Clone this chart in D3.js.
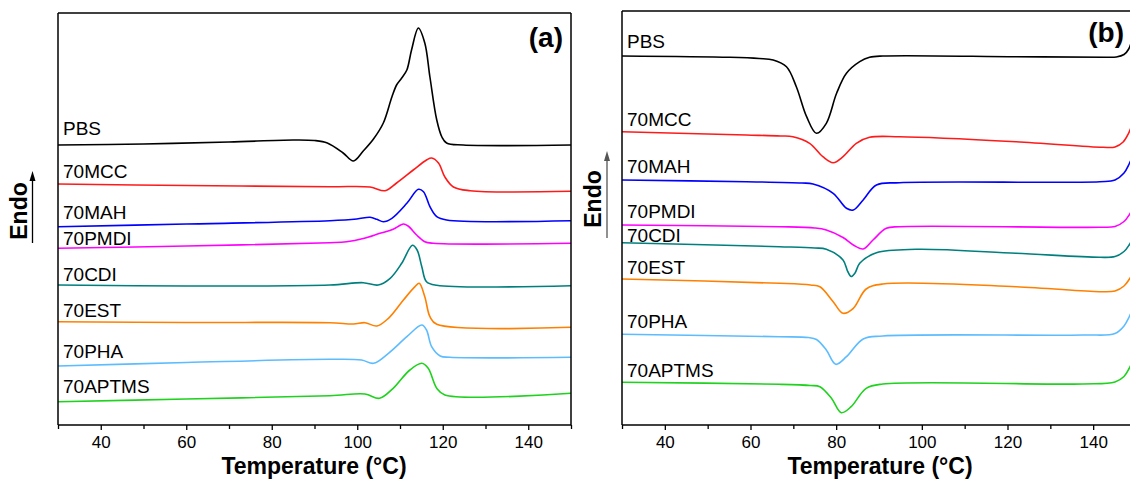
<!DOCTYPE html>
<html><head><meta charset="utf-8">
<script src="https://cdn.jsdelivr.net/npm/d3@7"></script>
<style>
html,body{margin:0;padding:0;background:#fff;}
svg{display:block;font-family:"Liberation Sans",Arial,sans-serif;}
</style></head>
<body><svg id="c" width="1130" height="481"></svg>
<script>
// ---------- DATA (temperature in °C, heat flow in arbitrary offset units, Endo up) ----------
const xTicks = [40, 60, 80, 100, 120, 140];
const xMinorTicks = [30, 50, 70, 90, 110, 130, 150];
const names = ["PBS", "70MCC", "70MAH", "70PMDI", "70CDI", "70EST", "70PHA", "70APTMS"];
const colors = ["#000000", "#ff1a1a", "#0000ff", "#ff00ff", "#007f7f", "#ff8000", "#5cbcff", "#1ed21e"];

// Panel (a) heating
const aPBS_T = [30, 50, 70, 85, 90, 93, 96.7, 99.1, 101.4, 103.8, 106.1, 108.1, 109.2, 110.4, 111.6, 112.7, 114.3, 115.8, 117.0, 118.6, 119.8, 120.9, 124.8, 150];
const aPBS_V = [280, 281, 283, 285, 284.5, 282, 272, 264, 274, 286, 302, 328, 340, 347, 355, 375, 397, 382, 348, 305, 288, 282, 280, 280];
const aMCC_T = [30, 60, 93.6, 103, 106.5, 109.2, 113.1, 116.2, 117.4, 119, 120.5, 122.5, 126.4, 150];
const aMCC_V = [241, 239.5, 238.3, 238, 234.3, 242, 255, 265, 267, 262, 248, 238, 234.3, 233.7];
const aMAH_T = [30, 60, 93.6, 99.9, 103, 104.6, 106.1, 108.1, 111.6, 114.3, 115.5, 117, 118.6, 120.9, 150];
const aMAH_V = [198.3, 201, 204.3, 206, 207.7, 205.7, 203.3, 206.7, 221.7, 235.7, 233.3, 218.3, 208.3, 205, 204.3];
const aPMDI_T = [30, 60, 93.6, 97.5, 101.4, 105.3, 108.4, 110.8, 111.9, 113.9, 115.8, 117.8, 150];
const aPMDI_V = [176.7, 179, 182.3, 183.3, 186.5, 191.7, 195.7, 201, 199, 190, 183.3, 181.7, 181.7];
const aCDI_T = [30, 60, 93.6, 101.4, 104.9, 107.7, 110.4, 112.9, 114.0, 115.1, 116.2, 118.6, 150];
const aCDI_V = [140, 139, 140, 142.3, 140, 146.7, 161.7, 179.7, 175, 158.3, 143.3, 139.7, 139.3];
const aEST_T = [30, 60, 93.6, 99.1, 101.8, 104.6, 107.3, 110.8, 113.5, 114.5, 115.8, 117, 118.6, 150];
const aEST_V = [103.3, 102.5, 102.3, 101, 102.3, 99, 106.7, 125, 138.3, 141.7, 128.3, 108.3, 100.7, 97.7];
const aPHA_T = [30, 60, 93.6, 101, 103.8, 107.3, 111.6, 115.1, 116.2, 117.4, 119.4, 121.7, 150];
const aPHA_V = [59, 62.5, 65.7, 65, 61.7, 71.7, 88.3, 100, 95, 78.3, 69, 67.7, 67.7];
const aAPTMS_T = [30, 60, 93.6, 101.8, 105.2, 108.4, 112.3, 115.1, 116.6, 118.6, 120.5, 150];
const aAPTMS_V = [23.3, 26, 29.3, 31, 26.7, 36.7, 55, 61.7, 56.7, 36.7, 30, 31.7];

// Panel (b) cooling
const bPBS_T = [30, 55.2, 62, 65.3, 68.4, 70.7, 73.1, 75.4, 77.7, 80.1, 82.4, 85.5, 87.8, 90.9, 122, 143, 145.4, 147.2, 148.3, 149.5];
const bPBS_V = [369, 367.7, 366.5, 365, 358.3, 338.3, 308.3, 291.7, 301.7, 331.7, 351.7, 363.3, 367.7, 369, 368.3, 367.7, 368, 370.5, 376, 392];
const bMCC_T = [30, 59, 67, 69.9, 73.8, 76.9, 79.3, 81.6, 84.7, 87.8, 94.8, 122, 142.3, 145.1, 147, 148.3, 149.5];
const bMCC_V = [293.3, 290, 289, 288.3, 281.7, 268.3, 262.3, 268.3, 281.7, 287.7, 288.3, 283.3, 277.7, 278, 283, 292, 305];
const bMAH_T = [30, 59, 72, 74.6, 79.3, 82.4, 84, 86.3, 89.4, 94.8, 141.5, 145.1, 147.2, 148.4, 149.5];
const bMAH_V = [245, 243.3, 242, 241, 231.7, 216.7, 215, 225, 240, 242.3, 243.3, 245, 252, 261, 272];
const bPMDI_T = [30, 66.8, 75, 77.7, 81.6, 84, 86.3, 88.6, 91.7, 94.8, 141.5, 145.1, 147.2, 148.4, 149.5];
const bPMDI_V = [200, 198.3, 197, 195, 187.5, 180, 176, 185, 196.7, 198.3, 197.7, 198.5, 203.5, 210, 219];
const bCDI_T = [30, 66.8, 75, 77.7, 81.6, 82.7, 83.5, 84.4, 85.5, 89.4, 98.7, 122, 141.5, 145.1, 147.2, 148.4, 149.5];
const bCDI_V = [182.3, 178.3, 177, 175.7, 165, 153.5, 148.5, 152, 161.7, 172.3, 175.7, 171.7, 167.7, 168.5, 173.5, 180, 189];
const bEST_T = [30, 66.8, 74, 76.2, 79.3, 81.6, 84, 87, 90.9, 122, 141.5, 145.1, 147.2, 148.4, 149.5];
const bEST_V = [146, 141.7, 140, 138.3, 123.3, 111.7, 116.7, 136, 141, 138.3, 133.3, 134, 139, 145.5, 154];
const bPHA_T = [30, 66.8, 73.5, 75.4, 77.7, 79.9, 82.4, 86.3, 90.9, 137.6, 145.1, 147.2, 148.4, 149.5];
const bPHA_V = [90.7, 88.3, 87.5, 85.5, 75, 60.7, 68.3, 86, 89, 90, 91.5, 99, 108, 119];
const bAPTMS_T = [30, 66.8, 74, 76.2, 78.9, 81.2, 83.5, 87, 90.9, 137.6, 145.1, 147.2, 148.4, 149.5];
const bAPTMS_V = [42.7, 40.7, 39.5, 38.3, 26.7, 12.3, 18.3, 36.7, 41, 41, 43, 48.5, 56.5, 67];

// Label anchor values (curve label heights, same units as series)
const aLabelV = [290, 247, 206, 180, 144, 108.3, 66.7, 31.7];
const bLabelV = [376.7, 299, 251.7, 206.7, 183.3, 150.7, 97.3, 47.7];

const aT = [aPBS_T, aMCC_T, aMAH_T, aPMDI_T, aCDI_T, aEST_T, aPHA_T, aAPTMS_T];
const aV = [aPBS_V, aMCC_V, aMAH_V, aPMDI_V, aCDI_V, aEST_V, aPHA_V, aAPTMS_V];
const bT = [bPBS_T, bMCC_T, bMAH_T, bPMDI_T, bCDI_T, bEST_T, bPHA_T, bAPTMS_T];
const bV = [bPBS_V, bMCC_V, bMAH_V, bPMDI_V, bCDI_V, bEST_V, bPHA_V, bAPTMS_V];

// ---------- DRAW ----------
const svg = d3.select("#c");

function panel(cfg) {
  const g = svg.append("g");
  const x = d3.scaleLinear().domain([30, 150]).range([cfg.left, cfg.right]);
  const y = d3.scaleLinear().domain([0, cfg.bottom - cfg.top]).range([cfg.bottom, cfg.top]);
  const clipId = "clip" + cfg.id;
  svg.append("clipPath").attr("id", clipId).append("rect")
    .attr("x", cfg.left).attr("y", cfg.top)
    .attr("width", Math.min(cfg.right, 1130) - cfg.left).attr("height", cfg.bottom - cfg.top);

  const line = d3.line().x(d => x(d[0])).y(d => y(d[1])).curve(d3.curveCatmullRom.alpha(0.5));
  const plot = g.append("g").attr("clip-path", `url(#${clipId})`);
  cfg.T.forEach((Ts, i) => {
    const pts = Ts.map((t, j) => [t, cfg.V[i][j]]);
    plot.append("path").attr("d", line(pts))
      .attr("fill", "none").attr("stroke", colors[i]).attr("stroke-width", 1.6)
      .attr("stroke-linejoin", "round");
  });

  // curve labels
  names.forEach((n, i) => {
    g.append("text").attr("x", cfg.left + 5).attr("y", y(cfg.labelV[i]))
      .attr("font-size", 19).attr("fill", "#000").text(n);
  });

  // frame
  const frame = g.append("g").attr("fill", "none").attr("stroke", "#000").attr("stroke-width", 1.5);
  frame.append("line").attr("x1", cfg.left).attr("x2", cfg.right).attr("y1", cfg.top).attr("y2", cfg.top);
  frame.append("line").attr("x1", cfg.left).attr("x2", cfg.left).attr("y1", cfg.top).attr("y2", cfg.bottom);
  frame.append("line").attr("x1", cfg.right).attr("x2", cfg.right).attr("y1", cfg.top).attr("y2", cfg.bottom);

  // bottom axis
  const ax = d3.axisBottom(x).tickValues(xTicks).tickSize(5).tickPadding(6).tickFormat(d3.format("d"));
  const axg = g.append("g").attr("transform", `translate(0,${cfg.bottom})`).call(ax);
  axg.select(".domain").attr("stroke-width", 1.5).attr("d", `M${cfg.left},0H${cfg.right}`);
  axg.selectAll(".tick line").attr("stroke-width", 1.3);
  axg.selectAll(".tick text").attr("font-size", 17).attr("font-family", "Liberation Sans, Arial, sans-serif").attr("fill", "#000");
  const minor = d3.axisBottom(x).tickValues(xMinorTicks).tickSize(4).tickFormat("");
  const mg = g.append("g").attr("transform", `translate(0,${cfg.bottom})`).call(minor);
  mg.select(".domain").remove();
  mg.selectAll(".tick line").attr("stroke-width", 1.3);

  g.append("text").attr("x", cfg.titleX).attr("y", 474).attr("text-anchor", "middle")
    .attr("font-size", 23).attr("font-weight", "bold").text("Temperature (°C)");

  g.append("text").attr("x", cfg.tagX).attr("y", cfg.tagY).attr("text-anchor", "end")
    .attr("font-size", 28).attr("font-weight", "bold").text(cfg.tag);

  // Endo arrow
  g.append("text").attr("transform", `translate(${cfg.endoX},${cfg.endoY}) rotate(-90)`)
    .attr("text-anchor", "middle").attr("font-size", 23).attr("font-weight", "bold").text("Endo");
  g.append("line").attr("x1", cfg.arrowX).attr("x2", cfg.arrowX)
    .attr("y1", cfg.arrowBottom).attr("y2", cfg.arrowTop + 8)
    .attr("stroke", cfg.arrowColor).attr("stroke-width", 1.3);
  g.append("path").attr("d", `M${cfg.arrowX},${cfg.arrowTop} l-3,10 h6 z`).attr("fill", cfg.arrowColor);
}

panel({id: "a", left: 58, right: 571, top: 13, bottom: 425, T: aT, V: aV, labelV: aLabelV,
  titleX: 314, tag: "(a)", tagX: 563, tagY: 47,
  endoX: 27, endoY: 211, arrowX: 32.5, arrowTop: 171, arrowBottom: 243, arrowColor: "#000"});
panel({id: "b", left: 622, right: 1136, top: 11, bottom: 425, T: bT, V: bV, labelV: bLabelV,
  titleX: 880, tag: "(b)", tagX: 1124, tagY: 42,
  endoX: 601, endoY: 199, arrowX: 607, arrowTop: 151, arrowBottom: 238, arrowColor: "#555"});
</script></body></html>
